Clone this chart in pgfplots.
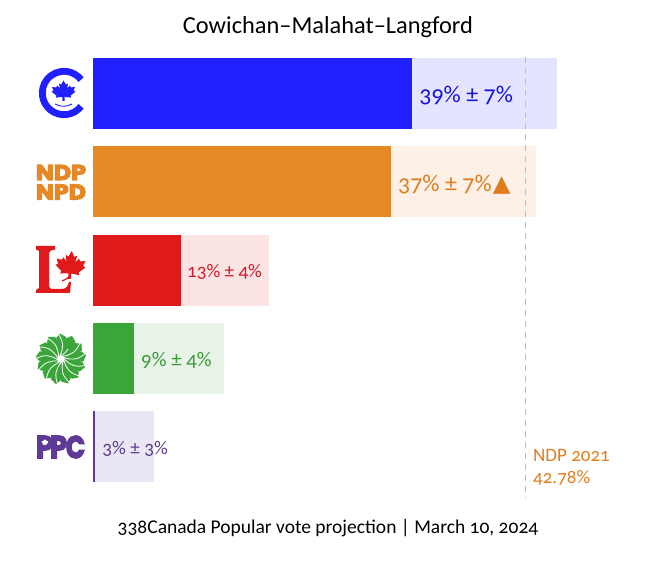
\documentclass[border=0pt]{standalone}
\usepackage{fontspec}
\usepackage{graphicx}
\usepackage{pgfplots}
\pgfplotsset{compat=1.18}
\setmainfont[Numbers=OldStyle]{Carlito}
\newfontfamily\logofont[BoldFont=Poppins Bold,BoldFeatures={FakeBold=5},Numbers=Lining]{Poppins}
\newfontfamily\symfont{DejaVu Sans}

\definecolor{cpc}{HTML}{1F1FFF}
\definecolor{cpcl}{HTML}{E4E4FF}
\definecolor{cpct}{HTML}{1616DC}
\definecolor{ndp}{HTML}{E58825}
\definecolor{ndpl}{HTML}{FDF0E6}
\definecolor{ndpt}{HTML}{DF7D1E}
\definecolor{lib}{HTML}{E01A1A}
\definecolor{libl}{HTML}{FCE4E4}
\definecolor{libt}{HTML}{D01A2A}
\definecolor{grn}{HTML}{3AA63A}
\definecolor{grnl}{HTML}{E8F3E8}
\definecolor{grnt}{HTML}{3A9A3A}
\definecolor{ppc}{HTML}{5E3A96}
\definecolor{ppcl}{HTML}{EBE6F3}

% maple leaf, unit size, centred on the origin
\newcommand{\leaf}{(0,-1) -- (.2,-.62) -- (.38,-.72) -- (.3,-.28) -- (.52,-.54) -- (.62,-.36) -- (.96,-.42) -- (.84,-.08) -- (1,.02) -- (.58,.38) -- (.64,.56) -- (.09,.49) -- (.09,.86) -- (-.09,.86) -- (-.09,.49) -- (-.64,.56) -- (-.58,.38) -- (-1,.02) -- (-.84,-.08) -- (-.96,-.42) -- (-.62,-.36) -- (-.52,-.54) -- (-.3,-.28) -- (-.38,-.72) -- (-.2,-.62) -- cycle}

\begin{document}
\begin{tikzpicture}
\useasboundingbox (0,0) rectangle (647pt,560pt);
\begin{axis}[
    at={(0,0)}, anchor=south west,
    scale only axis, width=647pt, height=560pt,
    axis lines=none, ticks=none,
    xmin=-9.208, xmax=54.851,
    ymin=-1.055, ymax=5.28, y dir=reverse,
    xbar, bar shift=0pt, bar width=71pt,
    clip=false,
]
% upper end of the range, then lower end on top
\addplot[xbar, draw=none, fill=cpcl] coordinates {(45.9,0)};
\addplot[xbar, draw=none, fill=ndpl] coordinates {(43.9,1)};
\addplot[xbar, draw=none, fill=libl] coordinates {(17.4,2)};
\addplot[xbar, draw=none, fill=grnl] coordinates {(13.0,3)};
\addplot[xbar, draw=none, fill=ppcl] coordinates {(6.0,4)};
\addplot[xbar, draw=none, fill=cpc] coordinates {(31.6,0)};
\addplot[xbar, draw=none, fill=ndp] coordinates {(29.5,1)};
\addplot[xbar, draw=none, fill=lib] coordinates {(8.7,2)};
\addplot[xbar, draw=none, fill=grn] coordinates {(4.06,3)};
\addplot[xbar, draw=none, fill=ppc] coordinates {(0.22,4)};
% NDP 2021 result
\addplot[draw=black!25, line width=1pt, dash pattern=on 6pt off 5pt, forget plot, sharp plot] coordinates {(42.78,-0.41) (42.78,4.57)};

\node[anchor=west, inner sep=0, text=cpct, font=\fontsize{24}{24}\selectfont] at (axis cs:31.6,0.03) {\hspace{7pt}39\% ± 7\%};
\node[anchor=west, inner sep=0, text=ndpt, font=\fontsize{24}{24}\selectfont] at (axis cs:29.5,1.03) {\hspace{7pt}37\% ± 7\%\hspace{1pt}{\symfont\fontsize{23}{23}\selectfont ▲}};
\node[anchor=west, inner sep=0, text=libt, font=\fontsize{19.2}{19.2}\selectfont] at (axis cs:8.7,2.02) {\hspace{6pt}13\% ± 4\%};
\node[anchor=west, inner sep=0, text=grnt, font=\fontsize{20.8}{20.8}\selectfont] at (axis cs:4.06,3.02) {\hspace{7pt}9\% ± 4\%};
\node[anchor=west, inner sep=0, text=ppc, font=\fontsize{19.3}{19.3}\selectfont] at (axis cs:0.22,4.02) {\hspace{7pt}3\% ± 3\%};
\end{axis}

% title, footer and logos in image pixels
\begin{scope}[x=1pt, y=-1pt, shift={(0pt,560pt)}]
\node[font=\fontsize{24.4}{24.4}\selectfont, inner sep=0] at (328,27) {Cowichan–Malahat–Langford};
\node[font=\fontsize{19.5}{19.5}\selectfont, inner sep=0] at (328,528) {338Canada Popular vote projection | March 10, 2024};
\node[anchor=west, text=ndpt, font=\fontsize{19}{22}\selectfont, align=left, inner sep=0] at (533,467) {NDP 2021\\42.78\%};

% Conservative
\draw[cpc, line width=6.8pt] (64,93) ++(38:21.7) arc[start angle=38, end angle=322, radius=21.7];
\begin{scope}[shift={(63.5,91.5)}, xscale=12, yscale=11]
\fill[cpc] \leaf;
\end{scope}
\draw[cpc, line width=.9pt] (55,104) arc[start angle=120, end angle=60, radius=17];

% NDP
\node[inner sep=0, text=ndp] at (61,172.5) {\resizebox{50pt}{15pt}{\logofont\bfseries NDP}};
\node[inner sep=0, text=ndp] at (61,192) {\resizebox{50pt}{15pt}{\logofont\bfseries NPD}};

% Liberal
\fill[lib] (36,246) -- (55,246) -- (55,249.5) -- (51,250.5) -- (49,253) -- (49,284) .. controls (49,288) and (50,289) .. (54,289) -- (62,289) .. controls (66,289) and (68,286) .. (69,282) -- (71,282) -- (70,293) -- (36,293) -- (36,290) -- (39,288) -- (39,251) -- (36,249.5) -- cycle;
\begin{scope}[shift={(70.5,266)}, scale=15, rotate=-5]
\fill[lib] \leaf;
\end{scope}
\draw[lib, line width=1.3pt] (71,272) .. controls (70,277) and (67,279) .. (62,281);

% Green
\fill[grn] (61,359) circle[radius=15];
\foreach \a in {0,27.7,...,340} {
  \begin{scope}[shift={(61,359)}, rotate=\a]
  \fill[grn] (-4,-12) -- (-4.8,-21) -- (-1,-25.5) -- (5,-22) -- (5,-12) -- cycle;
  \draw[white, line width=.8pt] (0,-3) .. controls (7,-8) and (11,-13) .. (9,-26);
  \end{scope}
}
\fill[white] (61,359) circle[radius=3.6];

% PPC
\node[inner sep=0, text=ppc] at (44.5,447) {\resizebox{17pt}{22pt}{\logofont\bfseries P}};
\node[inner sep=0, text=ppc] at (58.5,447) {\resizebox{17pt}{22pt}{\logofont\bfseries P}};
\node[inner sep=0, text=ppc] at (75.5,447) {\resizebox{19pt}{22pt}{\logofont\bfseries C}};
\begin{scope}[shift={(45,442.5)}, scale=3.3]
\fill[white] \leaf;
\end{scope}
\end{scope}
\end{tikzpicture}
\end{document}
